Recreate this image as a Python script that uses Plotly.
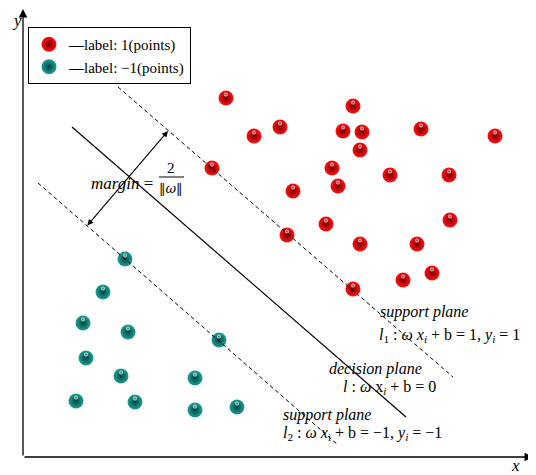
import plotly.graph_objects as go

# ---- data (units: arbitrary feature space) ----
red_x = [20.3, 33.0, 23.1, 25.7, 32.0, 33.9, 39.8, 47.2, 33.7, 18.9, 30.9, 36.7,
         42.6, 27.0, 31.5, 42.7, 30.3, 26.4, 33.7, 39.4, 40.9, 38.0, 33.0]
red_y = [35.9, 35.1, 32.1, 33.0, 32.6, 32.5, 32.8, 32.1, 30.7, 28.9, 28.9, 28.2,
         28.2, 26.6, 27.1, 23.7, 23.3, 22.2, 21.3, 21.3, 18.4, 17.7, 16.8]
teal_x = [10.2, 8.0, 6.0, 10.5, 19.6, 6.3, 9.8, 17.2, 5.3, 11.2, 17.2, 21.4]
teal_y = [19.8, 16.5, 13.4, 12.5, 11.7, 9.9, 8.1, 7.9, 5.6, 5.5, 4.7, 5.0]

decision_x = [4.9, 38.3]
decision_y = [33.0, 4.0]
support1_x = [9.5, 43.0]
support1_y = [37.0, 8.0]
support2_x = [1.5, 31.4]
support2_y = [27.4, 1.3]
margin_x = [6.3, 14.5]
margin_y = [23.0, 32.6]

x_range = [-1.5, 51.3]
y_range = [-1.8, 44.9]

W, H = 528, 467   # page body has an 8px margin
FONT = "Liberation Serif"

fig = go.Figure()

def spheres(xs, ys, center, edge, name):
    fig.add_trace(go.Scatter(
        x=xs, y=ys, mode="markers", name=name,
        marker=dict(size=15, color=center,
                    gradient=dict(type="radial", color=edge),
                    line=dict(width=0)),
    ))
    fig.add_trace(go.Scatter(
        x=xs, y=[v + 0.35 for v in ys], mode="markers", showlegend=False, hoverinfo="skip",
        marker=dict(size=4, color="rgba(255,255,255,0.8)",
                    gradient=dict(type="radial", color="rgba(255,255,255,0.1)"),
                    line=dict(width=0)),
    ))

spheres(red_x, red_y, "#ff1010", "#7a0000", "<b>—</b>label: 1(points)")
spheres(teal_x, teal_y, "#20a094", "#004540", "<b>—</b>label: −1(points)")

# lines
fig.add_trace(go.Scatter(x=decision_x, y=decision_y, mode="lines", showlegend=False,
                         line=dict(color="black", width=1.2), hoverinfo="skip"))
fig.add_trace(go.Scatter(x=support1_x, y=support1_y, mode="lines", showlegend=False,
                         line=dict(color="black", width=1, dash="4px,3px"), hoverinfo="skip"))
fig.add_trace(go.Scatter(x=support2_x, y=support2_y, mode="lines", showlegend=False,
                         line=dict(color="black", width=1, dash="4px,3px"), hoverinfo="skip"))

ann = []
# axes arrows
ann.append(dict(x=51.0, y=0, ax=0, ay=0, xref="x", yref="y", axref="x", ayref="y",
                text="", showarrow=True, arrowhead=2, arrowsize=1.3, arrowwidth=1.3,
                arrowcolor="black", standoff=0))
ann.append(dict(x=0, y=44.8, ax=0, ay=0, xref="x", yref="y", axref="x", ayref="y",
                text="", showarrow=True, arrowhead=2, arrowsize=1.3, arrowwidth=1.3,
                arrowcolor="black", standoff=0))
ann.append(dict(x=49.2, y=-0.8, xref="x", yref="y", text="<i>x</i>", showarrow=False,
                font=dict(family=FONT, size=17, color="black")))
ann.append(dict(x=-1.3, y=44.8, xref="x", yref="y", text="<i>y</i>", showarrow=False,
                xanchor="left", yanchor="top", font=dict(family=FONT, size=17, color="black")))
# margin arrow
ann.append(dict(x=margin_x[1], y=margin_y[1], ax=margin_x[0], ay=margin_y[0],
                xref="x", yref="y", axref="x", ayref="y", text="", showarrow=True,
                arrowhead=2, arrowside="end+start", arrowsize=1.1, arrowwidth=1.1,
                arrowcolor="black", standoff=0, startstandoff=0))
ann.append(dict(x=13.2, y=27.4, xref="x", yref="y", text="<i>margin</i> =",
                xanchor="right", showarrow=False,
                font=dict(family=FONT, size=17, color="black")))
ann.append(dict(x=14.8, y=28.9, xref="x", yref="y", text="2", showarrow=False,
                font=dict(family=FONT, size=15, color="black")))
ann.append(dict(x=14.8, y=26.9, xref="x", yref="y", text="‖<i>ω</i>‖", showarrow=False,
                font=dict(family="DejaVu Serif", size=13, color="black")))

txt = dict(family=FONT, size=16, color="black")
ann.append(dict(x=35.5, y=14.5, xref="x", yref="y", xanchor="left", showarrow=False,
                text="<i>support plane</i>", font=txt))
ann.append(dict(x=35.4, y=12.2, xref="x", yref="y", xanchor="left", showarrow=False,
                text="<i>l</i><sub>1</sub> : <i>ω x</i><sub><i>i</i></sub> + b = 1, <i>y</i><sub><i>i</i></sub> = 1",
                font=txt))
ann.append(dict(x=30.4, y=8.8, xref="x", yref="y", xanchor="left", showarrow=False,
                text="<i>decision plane</i>", font=txt))
ann.append(dict(x=31.8, y=7.0, xref="x", yref="y", xanchor="left", showarrow=False,
                text="<i>l</i> : <i>ω</i> x<sub><i>i</i></sub> + b = 0", font=txt))
ann.append(dict(x=25.8, y=4.2, xref="x", yref="y", xanchor="left", showarrow=False,
                text="<i>support plane</i>", font=txt))
ann.append(dict(x=25.8, y=2.4, xref="x", yref="y", xanchor="left", showarrow=False,
                text="<i>l</i><sub>2</sub> : <i>ω x</i><sub>i</sub> + b = −1, <i>y</i><sub><i>i</i></sub> = −1",
                font=txt))

shapes = [dict(type="line", xref="x", yref="y", x0=13.6, x1=16.1, y0=28.0, y1=28.0,
               line=dict(color="black", width=1))]

fig.update_layout(
    width=W, height=H,
    margin=dict(l=0, r=0, t=0, b=0),
    paper_bgcolor="white", plot_bgcolor="white",
    xaxis=dict(range=x_range, visible=False, fixedrange=True),
    yaxis=dict(range=y_range, visible=False, fixedrange=True),
    annotations=ann, shapes=shapes,
    showlegend=True,
    legend=dict(x=20 / W, y=1 - 19 / H, xanchor="left", yanchor="top",
                bordercolor="black", borderwidth=1, bgcolor="white",
                font=dict(family=FONT, size=15, color="black"),
                itemwidth=30, tracegroupgap=0),
)

fig.write_html("out.html")
